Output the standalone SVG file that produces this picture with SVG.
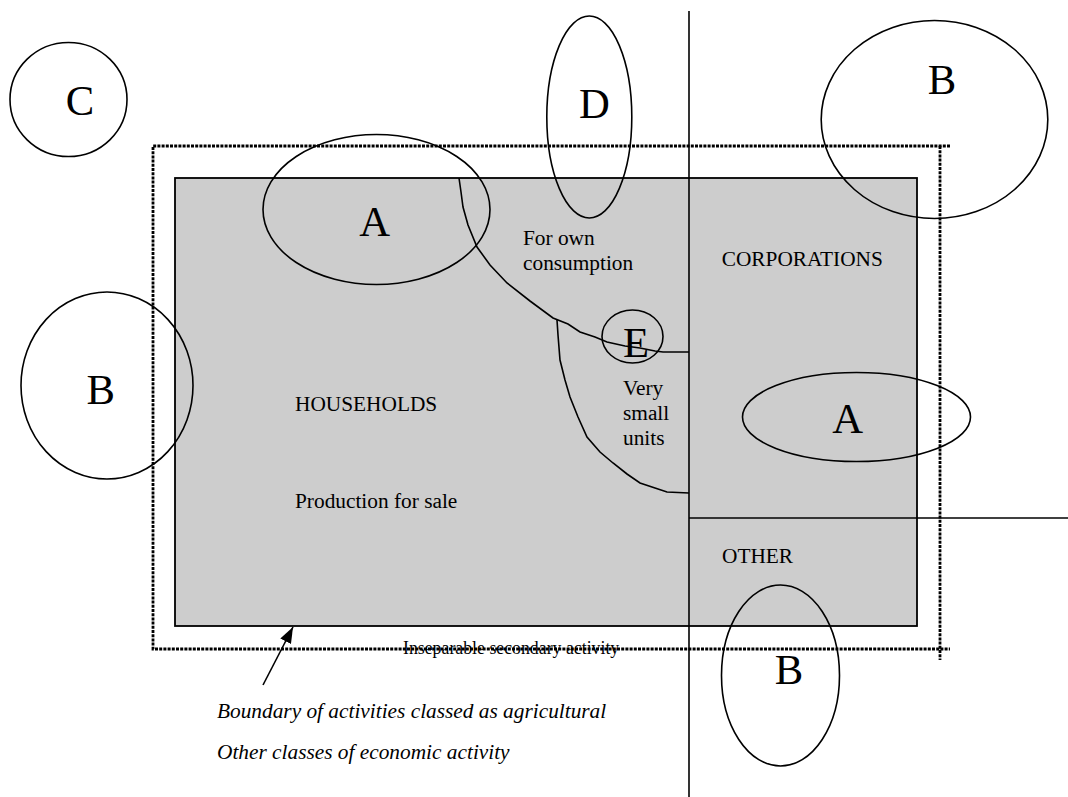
<svg xmlns="http://www.w3.org/2000/svg" width="1068" height="797" viewBox="0 0 1068 797">
<defs>
<style>
.ln{fill:none;stroke:#000;stroke-width:1.6}
.ell{fill:none;stroke:#000;stroke-width:1.6}
.dot{fill:none;stroke:#000;stroke-width:2.8;stroke-dasharray:3 1.2}
.big{font-family:"Liberation Serif","Times New Roman",serif;font-size:42.67px;fill:#000;text-anchor:middle}
.lbl{font-family:"Liberation Serif","Times New Roman",serif;font-size:21.33px;fill:#000}
.it{font-family:"Liberation Serif","Times New Roman",serif;font-size:21.33px;font-style:italic;fill:#000}
.sm{font-family:"Liberation Serif","Times New Roman",serif;font-size:17.8px;fill:#000}
</style>
<marker id="ah" viewBox="0 0 16 12" refX="16" refY="6" markerWidth="16" markerHeight="12" markerUnits="userSpaceOnUse" orient="auto">
<path d="M0,0 L16,6 L0,12 Z" fill="#000"/>
</marker>
</defs>
<rect width="1068" height="797" fill="#fff"/>

<g id="sectors">
<rect x="175" y="178" width="742" height="448" fill="#cdcdcd" stroke="#000" stroke-width="1.8"/>
</g>

<g id="boundary">
<path class="dot" d="M950,146 H153 V649 H950"/>
<path class="dot" d="M940,146 V660"/>
</g>

<g id="connectors">
<path class="ln" d="M689,11 V797"/>
<path class="ln" d="M689,518 H1068"/>
<path class="ln" d="M459,178 L461,192 L463,207 L468,225 L477,247 L490,265 L507,283 L530,301 L553,318 L568,324 L580,332 L595,337 L607,342 L625,346 L640,348 L655,351 L663,352 L689,352"/>
<path class="ln" d="M557,320 L558,335 L560,360 L565,380 L570,397 L578,417 L587,437 L600,452 L613,463 L627,474 L640,483 L655,488 L667,492 L689,493"/>
<path class="ln" d="M263,685 L293,627" marker-end="url(#ah)"/>
</g>

<g id="node-C">
<ellipse class="ell" cx="68.5" cy="99.5" rx="58.5" ry="57"/>
<text class="big" x="80" y="115">C</text>
</g>
<g id="node-D">
<ellipse class="ell" cx="589.3" cy="117" rx="42.5" ry="101"/>
<text class="big" x="594.5" y="118">D</text>
</g>
<g id="node-B-top">
<ellipse class="ell" cx="934.5" cy="119.5" rx="113.3" ry="99"/>
<text class="big" x="942" y="94">B</text>
</g>
<g id="node-A-top">
<ellipse class="ell" cx="376.5" cy="209.5" rx="113.5" ry="75"/>
<text class="big" x="374.7" y="236">A</text>
</g>
<g id="node-B-left">
<ellipse class="ell" cx="107" cy="385.5" rx="86" ry="93.5"/>
<text class="big" x="100.7" y="404">B</text>
</g>
<g id="node-E">
<ellipse class="ell" cx="632.5" cy="336.5" rx="30.5" ry="26.5"/>
<text class="big" x="636" y="357">E</text>
</g>
<g id="node-A-right">
<ellipse class="ell" cx="856.5" cy="417" rx="114" ry="44.5"/>
<text class="big" x="847.7" y="433">A</text>
</g>
<g id="node-B-bottom">
<ellipse class="ell" cx="780.5" cy="675.5" rx="59" ry="90.5"/>
<text class="big" x="789" y="684">B</text>
</g>

<g id="labels">
<text class="lbl" x="523" y="245">For own</text>
<text class="lbl" x="523" y="270">consumption</text>
<text class="lbl" x="721.7" y="266">CORPORATIONS</text>
<text class="lbl" x="295" y="411">HOUSEHOLDS</text>
<text class="lbl" x="623" y="395">Very</text>
<text class="lbl" x="623" y="420">small</text>
<text class="lbl" x="623" y="445">units</text>
<text class="lbl" x="295" y="508">Production for sale</text>
<text class="lbl" x="722" y="563">OTHER</text>
<text class="sm" x="403" y="654">Inseparable secondary activity</text>
<text class="it" x="217" y="718">Boundary of activities classed as agricultural</text>
<text class="it" x="217" y="759">Other classes of economic activity</text>
</g>
</svg>
